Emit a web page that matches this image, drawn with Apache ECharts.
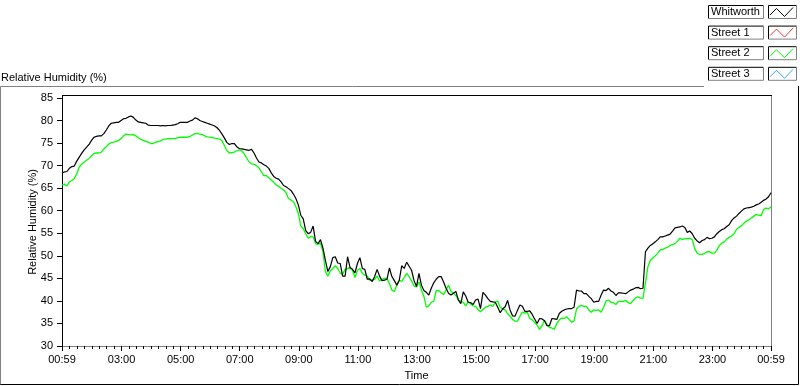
<!DOCTYPE html>
<html>
<head>
  <meta charset="UTF-8">
  <title>Relative Humidity</title>
  <script src="https://cdn.jsdelivr.net/npm/echarts@6/dist/echarts.min.js"></script>
  <style>
    html, body { margin: 0; padding: 0; background: #fff; }
    #chart { width: 800px; height: 386px; }
  </style>
</head>
<body>
  <div id="chart"></div>
  <script>
    // samples every 5 minutes starting 00:59, running one full day
    const START_MIN = 59;
    const STEP_MIN = 5;

    const whitworth = [
      68.4, 68.6, 68.7, 69.4, 69.8, 69.9, 71.0, 71.9, 72.7, 73.5, 74.1, 74.7, 75.6, 76.3, 76.5, 76.6,
      76.6, 77.1, 77.9, 78.8, 79.4, 79.5, 79.6, 79.6, 80.0, 80.4, 80.5, 80.8, 81.0, 80.7, 80.1, 79.7,
      79.6, 79.5, 79.4, 79.0, 78.9, 78.9, 78.9, 78.9, 78.8, 78.9, 78.8, 78.9, 78.9, 79.0, 79.1, 79.3,
      79.6, 79.6, 79.6, 79.6, 79.9, 80.1, 80.6, 80.4, 80.0, 79.8, 79.6, 79.4, 79.2, 79.0, 78.8, 78.4,
      77.8, 77.0, 76.1, 75.1, 74.7, 74.9, 74.9, 74.2, 73.8, 73.7, 73.6, 73.5, 73.4, 73.6, 72.8, 71.7,
      70.8, 70.6, 70.2, 69.9, 69.4, 68.4, 67.6, 67.2, 67.0, 66.4, 65.6, 65.3, 64.9, 64.5, 63.7, 62.7,
      61.3,
      59.0, 58.2, 55.6, 54.9, 55.2, 56.6, 53.2, 52.7, 53.6, 51.7, 49.0, 46.5, 47.6, 49.6, 49.8, 48.4,
      48.3, 45.5, 45.5, 49.8, 47.4, 47.0, 46.2, 48.3, 49.6, 47.2, 47.0, 44.8, 44.9, 44.3, 45.4, 47.0,
      45.5, 44.5, 44.6, 44.8, 47.3, 45.4, 44.5, 43.5, 44.6, 47.8, 47.2, 48.6, 47.7, 46.8, 44.5, 43.2,
      46.1,
      43.5, 42.3, 41.9, 41.3, 42.8, 44.0, 44.8, 45.4, 45.4, 44.2, 42.8, 41.7, 41.3, 41.7, 42.1, 40.2,
      39.4, 42.0, 41.1, 39.7, 39.6, 39.2, 40.2, 40.4, 38.3, 41.9, 41.3, 40.5, 39.9, 39.8, 39.7, 38.6,
      37.4, 38.2, 38.7, 40.1, 38.0, 36.7, 36.6, 37.9, 39.1, 38.8, 37.7, 37.7, 37.8, 37.0, 36.0, 35.0,
      36.1,
      36.0, 35.6, 34.5, 34.5, 36.1, 36.0, 35.9, 37.2, 37.7, 38.0, 38.2, 38.3, 38.3, 38.6, 42.4, 42.2,
      42.2, 41.6, 41.6, 41.0, 40.5, 39.7, 39.9, 39.9, 41.3, 42.4, 42.3, 42.8, 42.2, 41.9, 41.2, 41.8,
      41.8, 41.7, 41.6, 42.0, 42.4, 42.6, 42.9, 43.0, 42.7, 42.8, 50.9, 51.7, 52.3, 52.7, 53.1, 53.6,
      54.2,
      54.2, 54.4, 54.6, 54.8, 55.5, 56.2, 56.3, 56.4, 56.6, 56.3, 55.2, 55.5, 54.9, 53.9, 53.3, 52.9,
      53.4, 53.6, 54.1, 53.8, 53.9, 54.2, 54.9, 55.4, 55.8, 56.0, 56.5, 56.9, 57.8, 58.4, 58.8, 59.4,
      59.9, 60.4, 60.6, 60.7, 60.8, 61.0, 61.3, 61.5, 61.9, 62.3, 62.6, 63.1, 64.0
    ];

    const street2 = [
      65.7, 65.9, 65.5, 66.4, 66.7, 67.1, 68.2, 69.7, 70.3, 70.8, 71.2, 71.6, 72.2, 72.7, 72.8, 72.8,
      73.0, 73.7, 74.2, 74.8, 75.1, 75.2, 75.4, 75.6, 76.0, 76.6, 77.0, 76.9, 76.8, 76.9, 76.6, 76.2,
      75.8, 75.6, 75.4, 75.2, 74.9, 74.9, 75.2, 75.3, 75.5, 75.8, 75.9, 76.0, 76.0, 76.0, 76.0, 76.2,
      76.3, 76.3, 76.3, 76.3, 76.5, 76.8, 77.1, 77.1, 77.0, 76.9, 76.6, 76.4, 76.3, 76.2, 76.1, 76.0,
      75.9, 75.5, 74.4, 73.3, 72.8, 72.9, 73.0, 73.3, 73.5, 73.3, 72.6, 71.7, 70.8, 70.4, 70.3, 70.0,
      69.5, 68.6, 67.8, 67.8, 67.3, 66.8, 66.3, 65.7, 65.4, 65.0, 64.6, 64.0, 62.7, 62.4, 62.0, 60.9,
      59.4,
      56.6, 56.0, 54.9, 53.9, 54.3, 54.2, 52.7, 52.5, 52.8, 50.9, 46.5, 45.5, 46.7, 47.2, 47.8, 47.2,
      46.2, 45.9, 47.0, 47.2, 47.3, 46.8, 45.2, 46.8, 47.2, 46.1, 45.7, 45.5, 44.6, 44.6, 44.8, 45.5,
      44.4, 44.8, 45.0, 45.0, 43.8, 42.4, 42.1, 43.5, 44.6, 44.3, 45.2, 46.1, 45.4, 44.4, 43.3, 43.1,
      44.2,
      42.4, 41.0, 38.6, 38.9, 39.7, 39.9, 42.3, 42.3, 41.8, 41.4, 42.4, 43.5, 42.1, 41.7, 41.2, 40.2,
      39.9, 39.7, 38.9, 39.8, 39.3, 38.9, 38.8, 38.1, 37.6, 38.1, 38.6, 38.8, 39.1, 38.8, 39.7, 40.0,
      38.6, 38.2, 38.0, 37.2, 36.6, 35.9, 35.5, 35.5, 36.6, 37.5, 37.3, 37.5, 36.1, 35.8, 35.2, 34.6,
      33.7,
      34.5, 35.7, 34.8, 34.1, 34.0, 33.7, 35.0, 35.8, 36.2, 36.1, 36.5, 35.9, 35.3, 35.5, 38.2, 38.8,
      39.0, 38.8, 38.8, 38.0, 37.5, 38.0, 37.9, 38.0, 37.5, 38.6, 40.0, 40.2, 39.7, 39.6, 39.2, 39.9,
      39.9, 39.9, 40.1, 39.6, 39.4, 40.1, 40.7, 40.9, 40.6, 40.6, 44.0, 47.6, 49.0, 49.5, 50.0, 50.6,
      51.3,
      51.4, 51.7, 51.9, 52.3, 52.5, 52.7, 53.2, 53.9, 53.6, 53.8, 53.8, 53.9, 53.6, 51.6, 50.6, 50.3,
      50.3, 50.5, 50.9, 50.9, 50.6, 50.6, 51.2, 52.3, 52.8, 53.1, 53.7, 54.1, 54.4, 54.9, 55.9, 56.3,
      56.7, 57.2, 57.7, 58.0, 58.4, 58.8, 59.2, 59.0, 58.9, 60.3, 60.6, 60.4, 60.9
    ];

    // Street 1 / Street 3 have no samples in this plot
    const street1 = [];
    const street3 = [];

    // major time ticks, minutes after midnight (00:59 .. 00:59 next day)
    const majorTicks = [59, 180, 300, 420, 540, 660, 780, 900, 1020, 1140, 1260, 1380, 1499];

    const legendNames = ['Whitworth', 'Street 1', 'Street 2', 'Street 3'];
    const legendColors = ['#000000', '#ff3030', '#00ff00', '#30a8ff'];

    const FONT = 'Liberation Sans, Arial, sans-serif';

    const minutes = whitworth.map((_, i) => START_MIN + i * STEP_MIN);
    const pairs = vals => vals.map((v, i) => [minutes[i], v]);

    // 8 minor divisions between each pair of major ticks
    const minorTicks = [];
    for (let i = 0; i < majorTicks.length - 1; i++) {
      const a = majorTicks[i], b = majorTicks[i + 1];
      for (let k = 1; k < 8; k++) minorTicks.push(a + (b - a) * k / 8);
    }

    function fmtTime(m) {
      const mm = Math.round(m) % 1440;
      const h = Math.floor(mm / 60), n = mm % 60;
      return String(h).padStart(2, '0') + ':' + String(n).padStart(2, '0');
    }

    // legend panel drawn by hand (boxed label + boxed zigzag icon)
    function legendGraphics() {
      const out = [];
      legendNames.forEach((name, i) => {
        const top = 5 + i * 20.6;
        [[708, 55], [768, 28]].forEach(([x, w]) => {
          out.push({ type: 'polyline', silent: true,
            shape: { points: [[x + 0.5, top + 13.5], [x + 0.5, top + 0.5], [x + w + 0.5, top + 0.5]] },
            style: { stroke: '#000', lineWidth: 1, fill: null } });
          out.push({ type: 'polyline', silent: true,
            shape: { points: [[x + w + 0.5, top + 0.5], [x + w + 0.5, top + 13.5], [x + 0.5, top + 13.5]] },
            style: { stroke: '#808080', lineWidth: 1, fill: null } });
        });
        out.push({ type: 'text', silent: true,
          style: { x: 711, y: top + 7, text: name, font: '11px ' + FONT, fill: '#000', verticalAlign: 'middle' } });
        out.push({ type: 'polyline', silent: true,
          shape: { points: [[770, top + 10], [776.5, top + 3.5], [784.5, top + 11.5], [793, top + 2.5]] },
          style: { stroke: legendColors[i], lineWidth: 1, fill: null } });
      });
      return out;
    }

    const chart = echarts.init(document.getElementById('chart'));

    chart.setOption({
      animation: false,
      backgroundColor: '#ffffff',
      textStyle: { fontFamily: FONT },
      grid: { left: 62, right: 29, top: 98, bottom: 38, containLabel: false },
      xAxis: [{
        type: 'value',
        min: 59,
        max: 1499,
        name: 'Time',
        nameLocation: 'middle',
        nameGap: 24,
        nameMoveOverlap: false,
        nameTextStyle: { color: '#000', fontSize: 11 },
        axisLine: { show: true, lineStyle: { color: '#808080', width: 1 } },
        axisTick: { show: true, customValues: majorTicks, length: 5, inside: false, lineStyle: { color: '#000' } },
        axisLabel: { customValues: majorTicks, formatter: fmtTime, color: '#000', fontSize: 11, margin: 8 },
        splitLine: { show: false }
      }, {
        type: 'value',
        gridIndex: 0,
        position: 'bottom',
        min: 59,
        max: 1499,
        axisLine: { show: false },
        axisTick: { show: true, customValues: minorTicks, length: 3, lineStyle: { color: '#000' } },
        axisLabel: { show: false },
        splitLine: { show: false }
      }],
      yAxis: {
        type: 'value',
        min: 30,
        max: 85,
        interval: 5,
        name: 'Relative Humidity (%)',
        nameLocation: 'middle',
        nameGap: 24,
        nameMoveOverlap: false,
        nameRotate: 90,
        nameTextStyle: { color: '#000', fontSize: 11 },
        axisLine: { show: true, lineStyle: { color: '#000', width: 1 } },
        axisTick: { show: true, length: 5, lineStyle: { color: '#000' } },
        axisLabel: { color: '#000', fontSize: 11, margin: 9 },
        splitLine: { show: false }
      },
      series: [
        { name: 'Whitworth', type: 'line', data: pairs(whitworth), showSymbol: false,
          lineStyle: { color: '#000000', width: 1.2 }, itemStyle: { color: '#000000' }, z: 3 },
        { name: 'Street 1', type: 'line', data: street1, showSymbol: false,
          lineStyle: { color: legendColors[1], width: 1 } },
        { name: 'Street 2', type: 'line', data: pairs(street2), showSymbol: false,
          lineStyle: { color: '#00ff00', width: 1.3 }, itemStyle: { color: '#00ff00' }, z: 2 },
        { name: 'Street 3', type: 'line', data: street3, showSymbol: false,
          lineStyle: { color: legendColors[3], width: 1 } }
      ],
      graphic: [
        { type: 'text', silent: true,
          style: { x: 1, y: 78, text: 'Relative Humidity (%)', font: '11px ' + FONT, fill: '#000', verticalAlign: 'middle' } },
        // outer panel frame
        { type: 'polyline', silent: true,
          shape: { points: [[0.5, 385], [0.5, 86.5], [704, 86.5]] },
          style: { stroke: '#808080', lineWidth: 1, fill: null } },
        { type: 'polyline', silent: true,
          shape: { points: [[0.5, 384.5], [798.5, 384.5], [798.5, 86]] },
          style: { stroke: '#000', lineWidth: 1, fill: null } },
        // plot frame top (black) and right (gray)
        { type: 'line', silent: true, shape: { x1: 62, y1: 95.5, x2: 772, y2: 95.5 },
          style: { stroke: '#000', lineWidth: 1 } },
        { type: 'line', silent: true, shape: { x1: 62.5, y1: 95, x2: 62.5, y2: 98 },
          style: { stroke: '#000', lineWidth: 1 } },
        { type: 'line', silent: true, shape: { x1: 771.5, y1: 96, x2: 771.5, y2: 348 },
          style: { stroke: '#808080', lineWidth: 1 } }
      ].concat(legendGraphics())
    });
  </script>
</body>
</html>
